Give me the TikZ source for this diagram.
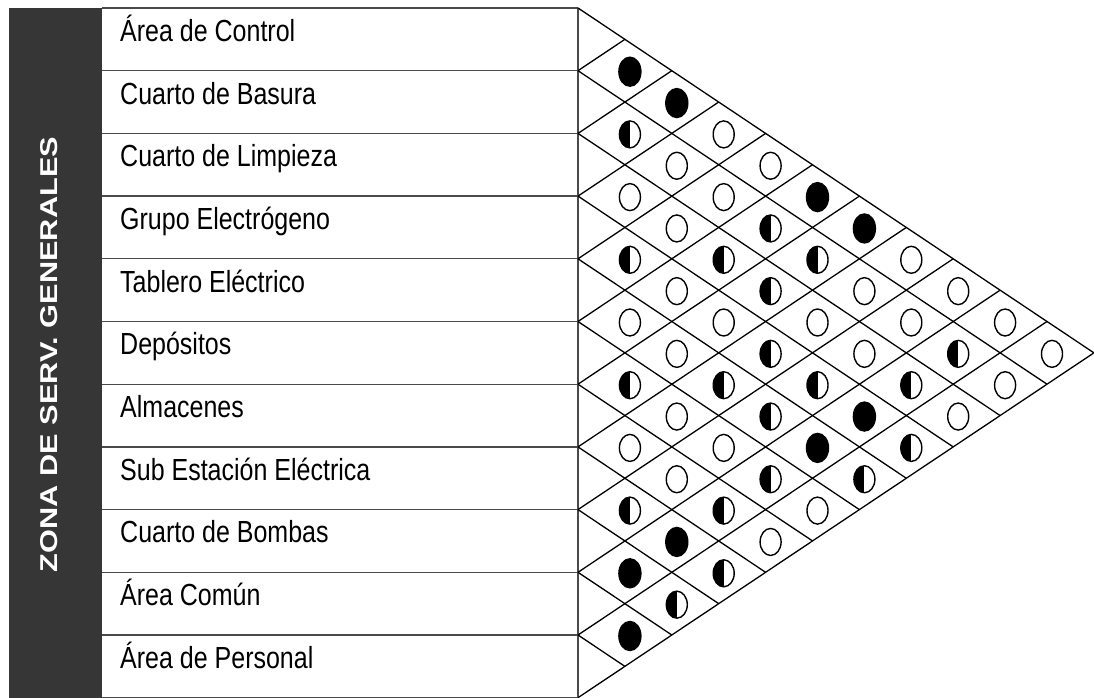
\documentclass[tikz,border=0pt]{standalone}
\usepackage{fontspec}
\setmainfont{Liberation Sans}
\usetikzlibrary{shapes.geometric}
\definecolor{barcol}{HTML}{363636}
\definecolor{tabline}{HTML}{4A4A4A}
\tikzset{
 lbl/.style={anchor=base west, inner sep=0pt, font=\fontsize{25}{30}\selectfont},
 tabln/.style={draw=tabline, line width=1.3pt},
 gridln/.style={draw=black, line width=1.3pt},
 symb/.style={ellipse, draw=black, line width=1.4pt, minimum width=21pt, minimum height=27pt, inner sep=0pt},
 fullsym/.style={symb, fill=black, minimum width=22pt, minimum height=29pt},
 halfsym/.style={symb, path picture={\fill[black] (path picture bounding box.south west) rectangle (path picture bounding box.north);}},
 emptysym/.style={symb},
}
\begin{document}
\begin{tikzpicture}[x=1pt,y=-1pt]
\useasboundingbox (0,0) rectangle (1094,698);
\fill[white] (0,0) rectangle (1094,698);
% left bar
\fill[barcol] (9,8) rectangle (102,697.7);
\node[rotate=90, anchor=base, inner sep=0pt, text=white] (zona) at (57,354.5)
  {\resizebox{435pt}{17pt}{\bfseries ZONA DE SERV. GENERALES}};
% grid coordinates
\foreach \k in {0,...,11}{
  \pgfmathsetmacro\yk{8+62.7*\k}
  \coordinate (L\k) at (578,\yk);
  \coordinate (T\k) at (102,\yk);
  \pgfmathsetmacro\xb{578+(11-\k)*46.9}
  \pgfmathsetmacro\yb{\yk+(11-\k)*31.35}
  \coordinate (D\k) at (\xb,\yb);
  \pgfmathsetmacro\xu{578+\k*46.9}
  \pgfmathsetmacro\yu{\yk-\k*31.35}
  \coordinate (U\k) at (\xu,\yu);
}
% table lines
\foreach \k in {0,...,11}{ \draw[tabln] (T\k) -- (L\k); }
\draw[tabln] (L0) -- (L11);
% diamond grid
\foreach \k in {0,...,10}{ \draw[gridln] (L\k) -- (D\k); }
\foreach \k in {1,...,11}{ \draw[gridln] (L\k) -- (U\k); }
% labels
\foreach \t [count=\n from 0] in {Área de Control, Cuarto de Basura, Cuarto de Limpieza, Grupo Electrógeno, Tablero Eléctrico, Depósitos, Almacenes, Sub Estación Eléctrica, Cuarto de Bombas, Área Común, Área de Personal}{
  \pgfmathsetmacro\yl{8+62.7*\n+31.35+2}
  \node[lbl] (r\n) at (120,\yl) {\scalebox{1}[1.22]{\t}};
}
% symbols
\foreach \i/\j in {0/1,0/2,0/5,0/6,3/9,4/9,7/9,8/9,9/10}{
  \pgfmathsetmacro\cx{578+(\j-\i)*46.9+5}
  \pgfmathsetmacro\cy{8+31.35*(\i+\j+1)+1}
  \node[fullsym] (s\i-\j) at (\cx,\cy) {};
}
\foreach \i/\j in {1/2,1/5,3/4,2/5,1/6,2/6,3/7,1/9,5/6,4/7,3/8,2/9,4/8,3/10,5/9,4/10,7/8,6/9,7/10,8/10}{
  \pgfmathsetmacro\cx{578+(\j-\i)*46.9+5}
  \pgfmathsetmacro\cy{8+31.35*(\i+\j+1)+1}
  \node[halfsym] (s\i-\j) at (\cx,\cy) {};
}
\foreach \i/\j in {0/3,1/3,0/4,2/3,1/4,2/4,0/7,3/5,1/7,0/8,4/5,3/6,2/7,1/8,0/9,4/6,2/8,0/10,1/10,5/7,2/10,6/7,5/8,6/8,5/10,6/10}{
  \pgfmathsetmacro\cx{578+(\j-\i)*46.9+5}
  \pgfmathsetmacro\cy{8+31.35*(\i+\j+1)+1}
  \node[emptysym] (s\i-\j) at (\cx,\cy) {};
}
\end{tikzpicture}
\end{document}
